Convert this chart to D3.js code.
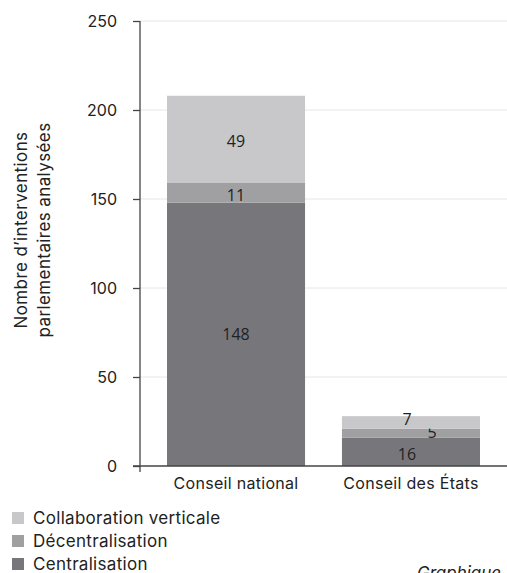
<!DOCTYPE html>
<html>
<head>
<meta charset="utf-8">
<script src="https://cdn.jsdelivr.net/npm/d3@7"></script>
<style>
  body { margin: 0; background: #fff; }
  text { font-family: Inter, Roboto, sans-serif; fill: #222; }
</style>
</head>
<body>
<div class="chart"></div>
<script>
const chambers = ["Conseil national", "Conseil des États"];
const seriesNames = ["Centralisation", "Décentralisation", "Collaboration verticale"];
const centralisation = [148, 16];
const decentralisation = [11, 5];
const collaboration = [49, 7];
const yTicks = [0, 50, 100, 150, 200, 250];

const colors = ["#77777b", "#a0a0a3", "#c8c8ca"];
// little nudges for the crowded labels on the small bar
const labelDx = [[0, -4], [0, 21], [0, -4]];
const labelDy = [[0, 2], [2, -1], [2, -3]];

let width = 507, height = 573;
let svg = d3.select(".chart").append("svg")
  .attr("width", width)
  .attr("height", height);

let y = d3.scaleLinear().domain([0, 250]).range([466, 21]);
let x = d3.scaleBand().domain(chambers).range([167, 480]).paddingInner(0.211).paddingOuter(0);

// grid
svg.selectAll(".grid")
  .data(yTicks.filter(d => d > 0))
  .join("line")
  .attr("x1", 140).attr("x2", 507)
  .attr("y1", d => y(d)).attr("y2", d => y(d))
  .attr("stroke", "#e6e6e6").attr("stroke-width", 1);

let rows = chambers.map((c, i) => ({
  chamber: c, i: i,
  "Centralisation": centralisation[i],
  "Décentralisation": decentralisation[i],
  "Collaboration verticale": collaboration[i]
}));
let stacked = d3.stack().keys(seriesNames)(rows);

stacked.forEach((layer, k) => {
  svg.selectAll(".bar" + k)
    .data(layer)
    .join("rect")
    .attr("x", d => x(d.data.chamber))
    .attr("width", x.bandwidth())
    .attr("y", d => y(d[1]))
    .attr("height", d => y(d[0]) - y(d[1]))
    .attr("fill", colors[k]);

  svg.selectAll(".lab" + k)
    .data(layer)
    .join("text")
    .attr("x", d => x(d.data.chamber) + x.bandwidth() / 2 + labelDx[k][d.data.i])
    .attr("y", d => (y(d[0]) + y(d[1])) / 2 + labelDy[k][d.data.i])
    .attr("dy", "0.36em")
    .attr("text-anchor", "middle")
    .style("font-family", "'Open Sans', sans-serif")
    .style("font-size", "16px")
    .text(d => d[1] - d[0]);
});

// y axis
let yAxis = svg.append("g")
  .attr("transform", "translate(140,0)")
  .call(d3.axisLeft(y).tickValues(yTicks).tickSize(7).tickPadding(16));
yAxis.select(".domain").attr("d", "M0," + y(250) + "V" + (y(0) + 6)).attr("stroke", "#444").attr("stroke-width", 1.3);
yAxis.selectAll(".tick line").attr("stroke", "#444").attr("stroke-width", 1.3);
yAxis.selectAll(".tick text").style("font-family", "Inter, sans-serif").style("font-size", "16px").attr("fill", "#222");

// x axis
let xAxis = svg.append("g")
  .attr("transform", "translate(0," + y(0) + ")")
  .call(d3.axisBottom(x).tickSize(0).tickPadding(12));
xAxis.select(".domain").attr("d", "M133,0H507").attr("stroke", "#444").attr("stroke-width", 1.3);
xAxis.selectAll(".tick text").style("font-family", "Inter, sans-serif").style("font-size", "16px")
  .style("letter-spacing", "0.3px").attr("fill", "#222");

// y title
let yt = svg.append("text")
  .attr("transform", "translate(27,230) rotate(-90)")
  .attr("text-anchor", "middle")
  .style("font-size", "17px")
  .style("letter-spacing", "0.4px");
yt.append("tspan").attr("x", 0).attr("dy", 0).text("Nombre d’interventions");
yt.append("tspan").attr("x", 0).attr("dy", "1.35em").text("parlementaires analysées");

// legend
let legendItems = seriesNames.slice().reverse();
let lg = svg.selectAll(".legend")
  .data(legendItems)
  .join("g")
  .attr("transform", (d, i) => "translate(12," + (512 + i * 23) + ")");
lg.append("rect").attr("width", 12).attr("height", 12)
  .attr("fill", d => colors[seriesNames.indexOf(d)]);
lg.append("text").attr("x", 21).attr("y", 6).attr("dy", "0.36em")
  .style("font-size", "17px").style("letter-spacing", "0.3px").text(d => d);

svg.append("text")
  .attr("x", 417).attr("y", 579)
  .style("font-size", "17px").style("font-style", "italic")
  .text("Graphique");
</script>
</body>
</html>
